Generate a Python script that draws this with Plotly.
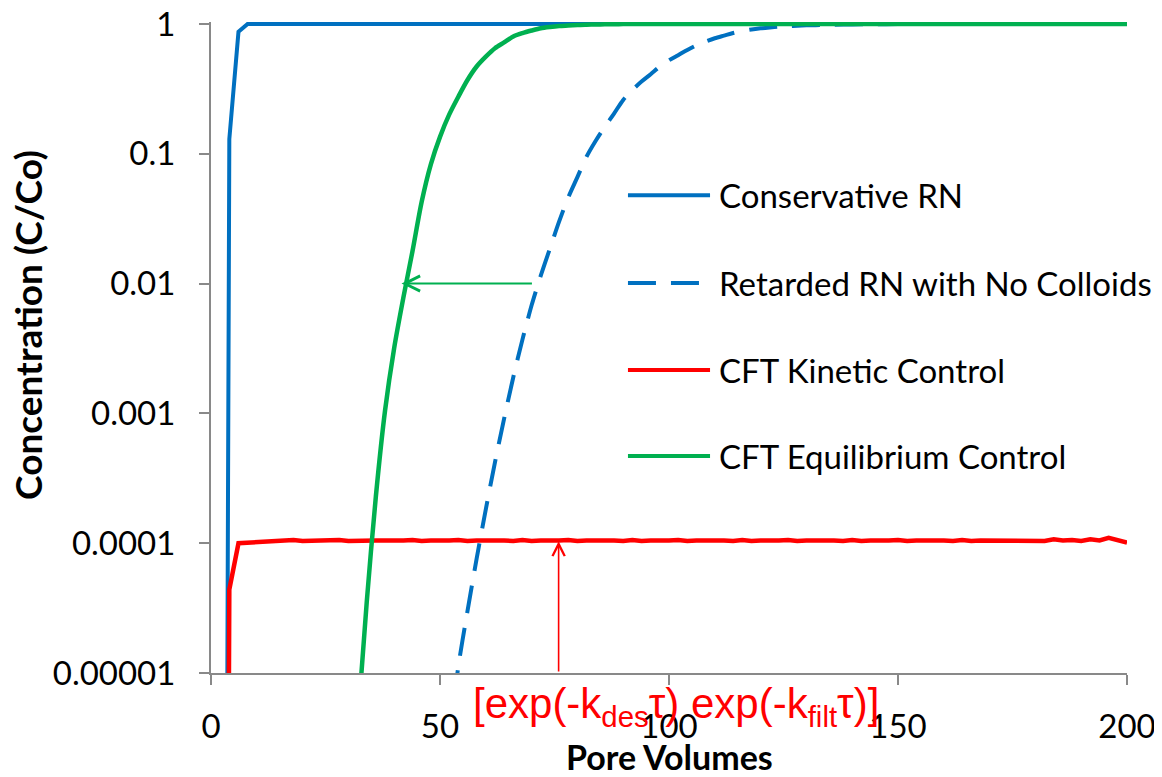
import plotly.graph_objects as go

# Pore volumes / concentrations
x_cons = [2, 4, 6, 8, 200]
y_cons = [1e-20, 0.13, 0.87, 1.0, 1.0]

x_ret = [52, 54, 56, 58, 60, 62, 64, 66, 68, 70, 72, 74, 76, 78, 80, 82, 84, 86, 88, 90,
         92, 94, 96, 98, 100, 102, 104, 106, 108, 110, 112, 114, 116, 118, 120, 122, 124,
         126, 128, 130, 132, 134, 136, 140, 144, 150, 160, 170, 200]
y_ret = [3e-6, 1.12e-5, 3.0e-5, 7.6e-5, 1.82e-4, 4.2e-4, 9.1e-4, 1.9e-3, 3.7e-3, 6.8e-3,
         0.0115, 0.0186, 0.030, 0.046, 0.066, 0.095, 0.126, 0.162, 0.204, 0.26,
         0.31, 0.36, 0.41, 0.47, 0.525, 0.575, 0.63, 0.684, 0.733, 0.776, 0.813, 0.851,
         0.881, 0.906, 0.925, 0.94, 0.953, 0.962, 0.968, 0.975, 0.979, 0.984, 0.986,
         0.991, 0.994, 0.998, 0.9993, 1.0, 1.0]

x_kin = list(range(2, 201, 2))
y_kin = [1e-20, 4.4e-5, 1.00e-4, 1.01e-4, 1.02e-4, 1.04e-4, 1.05e-4, 1.04e-4, 1.06e-4, 1.04e-4,
         1.05e-4, 1.04e-4, 1.05e-4, 1.06e-4, 1.04e-4, 1.05e-4, 1.04e-4, 1.05e-4, 1.05e-4, 1.04e-4,
         1.05e-4, 1.06e-4, 1.04e-4, 1.05e-4, 1.04e-4, 1.05e-4, 1.06e-4, 1.04e-4, 1.05e-4, 1.04e-4,
         1.05e-4, 1.05e-4, 1.04e-4, 1.06e-4, 1.04e-4, 1.05e-4, 1.04e-4, 1.05e-4, 1.06e-4, 1.04e-4,
         1.05e-4, 1.04e-4, 1.05e-4, 1.05e-4, 1.04e-4, 1.06e-4, 1.04e-4, 1.05e-4, 1.04e-4, 1.05e-4,
         1.06e-4, 1.04e-4, 1.05e-4, 1.04e-4, 1.05e-4, 1.05e-4, 1.04e-4, 1.06e-4, 1.04e-4, 1.05e-4,
         1.04e-4, 1.05e-4, 1.06e-4, 1.04e-4, 1.05e-4, 1.04e-4, 1.05e-4, 1.05e-4, 1.04e-4, 1.06e-4,
         1.04e-4, 1.05e-4, 1.04e-4, 1.05e-4, 1.06e-4, 1.04e-4, 1.05e-4, 1.04e-4, 1.05e-4, 1.05e-4,
         1.04e-4, 1.06e-4, 1.04e-4, 1.05e-4, 1.05e-4, 1.06e-4, 1.04e-4, 1.06e-4, 1.05e-4, 1.06e-4,
         1.04e-4, 1.07e-4, 1.05e-4, 1.06e-4, 1.04e-4, 1.07e-4, 1.05e-4, 1.10e-4, 1.06e-4, 1.01e-4]

x_eq = [32, 34, 36, 38, 40, 42, 44, 46, 48, 50, 52, 54, 56, 58, 60, 62, 64, 66, 68, 70,
        72, 74, 76, 78, 80, 82, 84, 86, 88, 90, 92, 94, 96, 98, 200]
y_eq = [4e-6, 3.5e-5, 2.3e-4, 1.05e-3, 3.2e-3, 7.8e-3, 0.0178, 0.0427, 0.083, 0.135,
        0.20, 0.275, 0.37, 0.47, 0.56, 0.65, 0.72, 0.80, 0.85, 0.89,
        0.927, 0.948, 0.964, 0.973, 0.982, 0.987, 0.991, 0.993, 0.995, 0.997,
        0.998, 0.999, 0.9995, 1.0, 1.0]

names = ['Conservative RN', 'Retarded RN with No Colloids', 'CFT Kinetic Control',
         'CFT Equilibrium Control']
colors = ['#0070C0', '#0070C0', '#FF0000', '#00B050']
dashes = ['solid', '28px,15px', 'solid', 'solid']

x_ticks = [0, 50, 100, 150, 200]
y_ticks = [1e-5, 1e-4, 1e-3, 1e-2, 1e-1, 1]
y_ticktext = ['0.00001', '0.0001', '0.001', '0.01', '0.1', '1']

FONT = 'Lato'

fig = go.Figure()
series = [(x_cons, y_cons), (x_ret, y_ret), (x_kin, y_kin), (x_eq, y_eq)]
widths = [4, 4, 4.5, 4.5]
shapes_ = ['linear', 'spline', 'linear', 'spline']
for (xs, ys), name, col, dash, w, sh in zip(series, names, colors, dashes, widths, shapes_):
    fig.add_trace(go.Scatter(x=xs, y=ys, name=name, mode='lines',
                             line=dict(color=col, width=w, dash=dash, shape=sh, smoothing=0.8),
                             showlegend=False))

axis_style = dict(showline=True, linecolor='#898989', linewidth=2, ticks='outside',
                  ticklen=10, tickwidth=2, tickcolor='#898989', showgrid=False,
                  zeroline=False, automargin=False, ticklabeloverflow='allow',
                  ticklabelposition='outside',
                  tickfont=dict(family=FONT, size=33, color='black'))

# page body has an 8px margin, so the figure is 8px smaller and shifted
fig.update_layout(
    width=1154, height=769,
    margin=dict(l=203, r=35, t=14, b=104),
    plot_bgcolor='white', paper_bgcolor='white',
    font=dict(family=FONT, color='black'),
)
fig.update_xaxes(range=[0, 200], tickvals=x_ticks, ticklabelstandoff=13, **axis_style)
fig.update_yaxes(type='log', range=[-5, 0.015], tickvals=y_ticks, ticktext=y_ticktext,
                 ticklabelstandoff=17, **axis_style)

# axis titles as annotations so they sit where the original has them
fig.add_annotation(xref='paper', yref='paper', x=0.5, y=-0.128,
                   text='<b>Pore Volumes</b>', showarrow=False,
                   xanchor='center', yanchor='middle',
                   font=dict(family=FONT, size=34, color='black'))
fig.add_annotation(xref='paper', yref='paper', x=-0.1998, y=0.5346,
                   text='<b>Concentration (C/Co)</b>', textangle=-90, showarrow=False,
                   xanchor='center', yanchor='middle',
                   font=dict(family=FONT, size=37, color='black'))

# hand-drawn legend inside the plot (long sample lines like the original)
leg_y = [0.734, 0.599, 0.4654, 0.3333]
for name, col, dash, yy in zip(names, colors, dashes, leg_y):
    fig.add_shape(type='line', xref='paper', yref='paper', x0=0.4552, x1=0.5448,
                  y0=yy, y1=yy, line=dict(color=col, width=4, dash=dash))
    fig.add_annotation(xref='paper', yref='paper', x=0.5524, y=yy, text=name,
                       showarrow=False, xanchor='left', yanchor='middle',
                       font=dict(family=FONT, size=33, color='black'))

# green arrow: shift of the retarded curve at C/Co = 0.01
fig.add_annotation(x=41.6, y=-2, ax=70.4, ay=-2, xref='x', yref='y', axref='x', ayref='y',
                   text='', showarrow=True, arrowhead=5, arrowsize=1.5, arrowwidth=2,
                   arrowcolor='#00B050', standoff=0, startstandoff=0)

# red arrow up to the kinetic plateau
fig.add_annotation(x=75.9, y=-3.985, ax=75.9, ay=-5, xref='x', yref='y', axref='x', ayref='y',
                   text='', showarrow=True, arrowhead=5, arrowsize=1.5, arrowwidth=1.6,
                   arrowcolor='#FF0000', standoff=0, startstandoff=0)

fig.add_annotation(xref='paper', yref='paper', x=0.5076, y=-0.052,
                   text='[exp(-k<sub>des</sub>τ) exp(-k<sub>filt</sub>τ)]',
                   showarrow=False, xanchor='center', yanchor='middle',
                   font=dict(family='Liberation Sans', size=42, color='#FF0000'))

fig.write_html("out.html")
